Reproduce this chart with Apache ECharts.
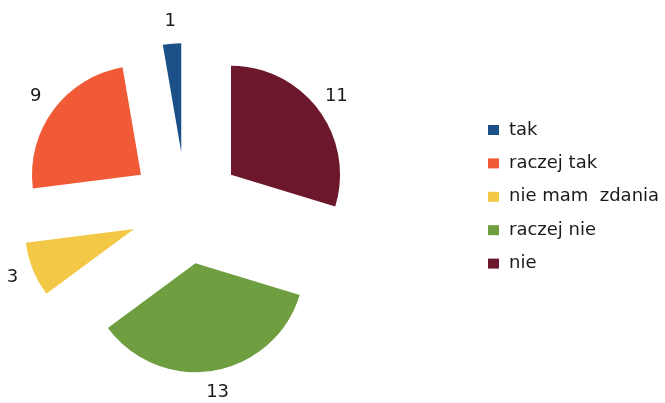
<!DOCTYPE html>
<html>
<head>
<meta charset="utf-8">
<script src="https://cdn.jsdelivr.net/npm/echarts@6/dist/echarts.min.js"></script>
<style>
html, body { margin: 0; padding: 0; background: #fff; }
#main { width: 665px; height: 403px; }
</style>
</head>
<body>
<div id="main"></div>
<script>
'use strict';
var categories = ['tak', 'raczej tak', 'nie mam  zdania', 'raczej nie', 'nie'];
var values = [1, 9, 3, 13, 11];
var colors = ['#1a4f87', '#f05a36', '#f2c846', '#6e9e40', '#6c172b'];

var chart = echarts.init(document.getElementById('main'));

// slices, all pulled out of the centre
var sliceData = categories.map(function(name, i){
	return { name: name, value: values[i], selected: true, itemStyle: { color: colors[i] } };
});
// same values again, only to place the numbers round the pie
var labelData = categories.map(function(name, i){
	return { name: name, value: values[i] };
});

chart.setOption({
	animation: false,
	color: colors,
	legend: {
		orient: 'vertical',
		left: 488,
		top: 121,
		padding: 0,
		itemWidth: 11,
		itemHeight: 10,
		itemGap: 15.4,
		icon: 'rect',
		selectedMode: false,
		textStyle: {
			fontFamily: 'DejaVu Sans',
			fontSize: 18,
			lineHeight: 18,
			color: '#1a1a1a',
			padding: [0, 0, 0, 5]
		},
		data: categories
	},
	series: [{
		type: 'pie',
		center: [186, 208],
		radius: 109,
		startAngle: 90,
		clockwise: false,
		selectedMode: 'multiple',
		selectedOffset: 56,
		silent: true,
		label: { show: false },
		labelLine: { show: false },
		emphasis: { disabled: true },
		data: sliceData
	}, {
		type: 'pie',
		center: [186, 208],
		radius: [0, 368],
		startAngle: 90,
		clockwise: false,
		silent: true,
		avoidLabelOverlap: false,
		itemStyle: { color: 'rgba(0,0,0,0)' },
		label: {
			show: true,
			position: 'inside',
			formatter: '{c}',
			fontFamily: 'DejaVu Sans',
			fontSize: 18,
			color: '#1a1a1a'
		},
		labelLine: { show: false },
		emphasis: { disabled: true },
		data: labelData
	}]
});
</script>
</body>
</html>
